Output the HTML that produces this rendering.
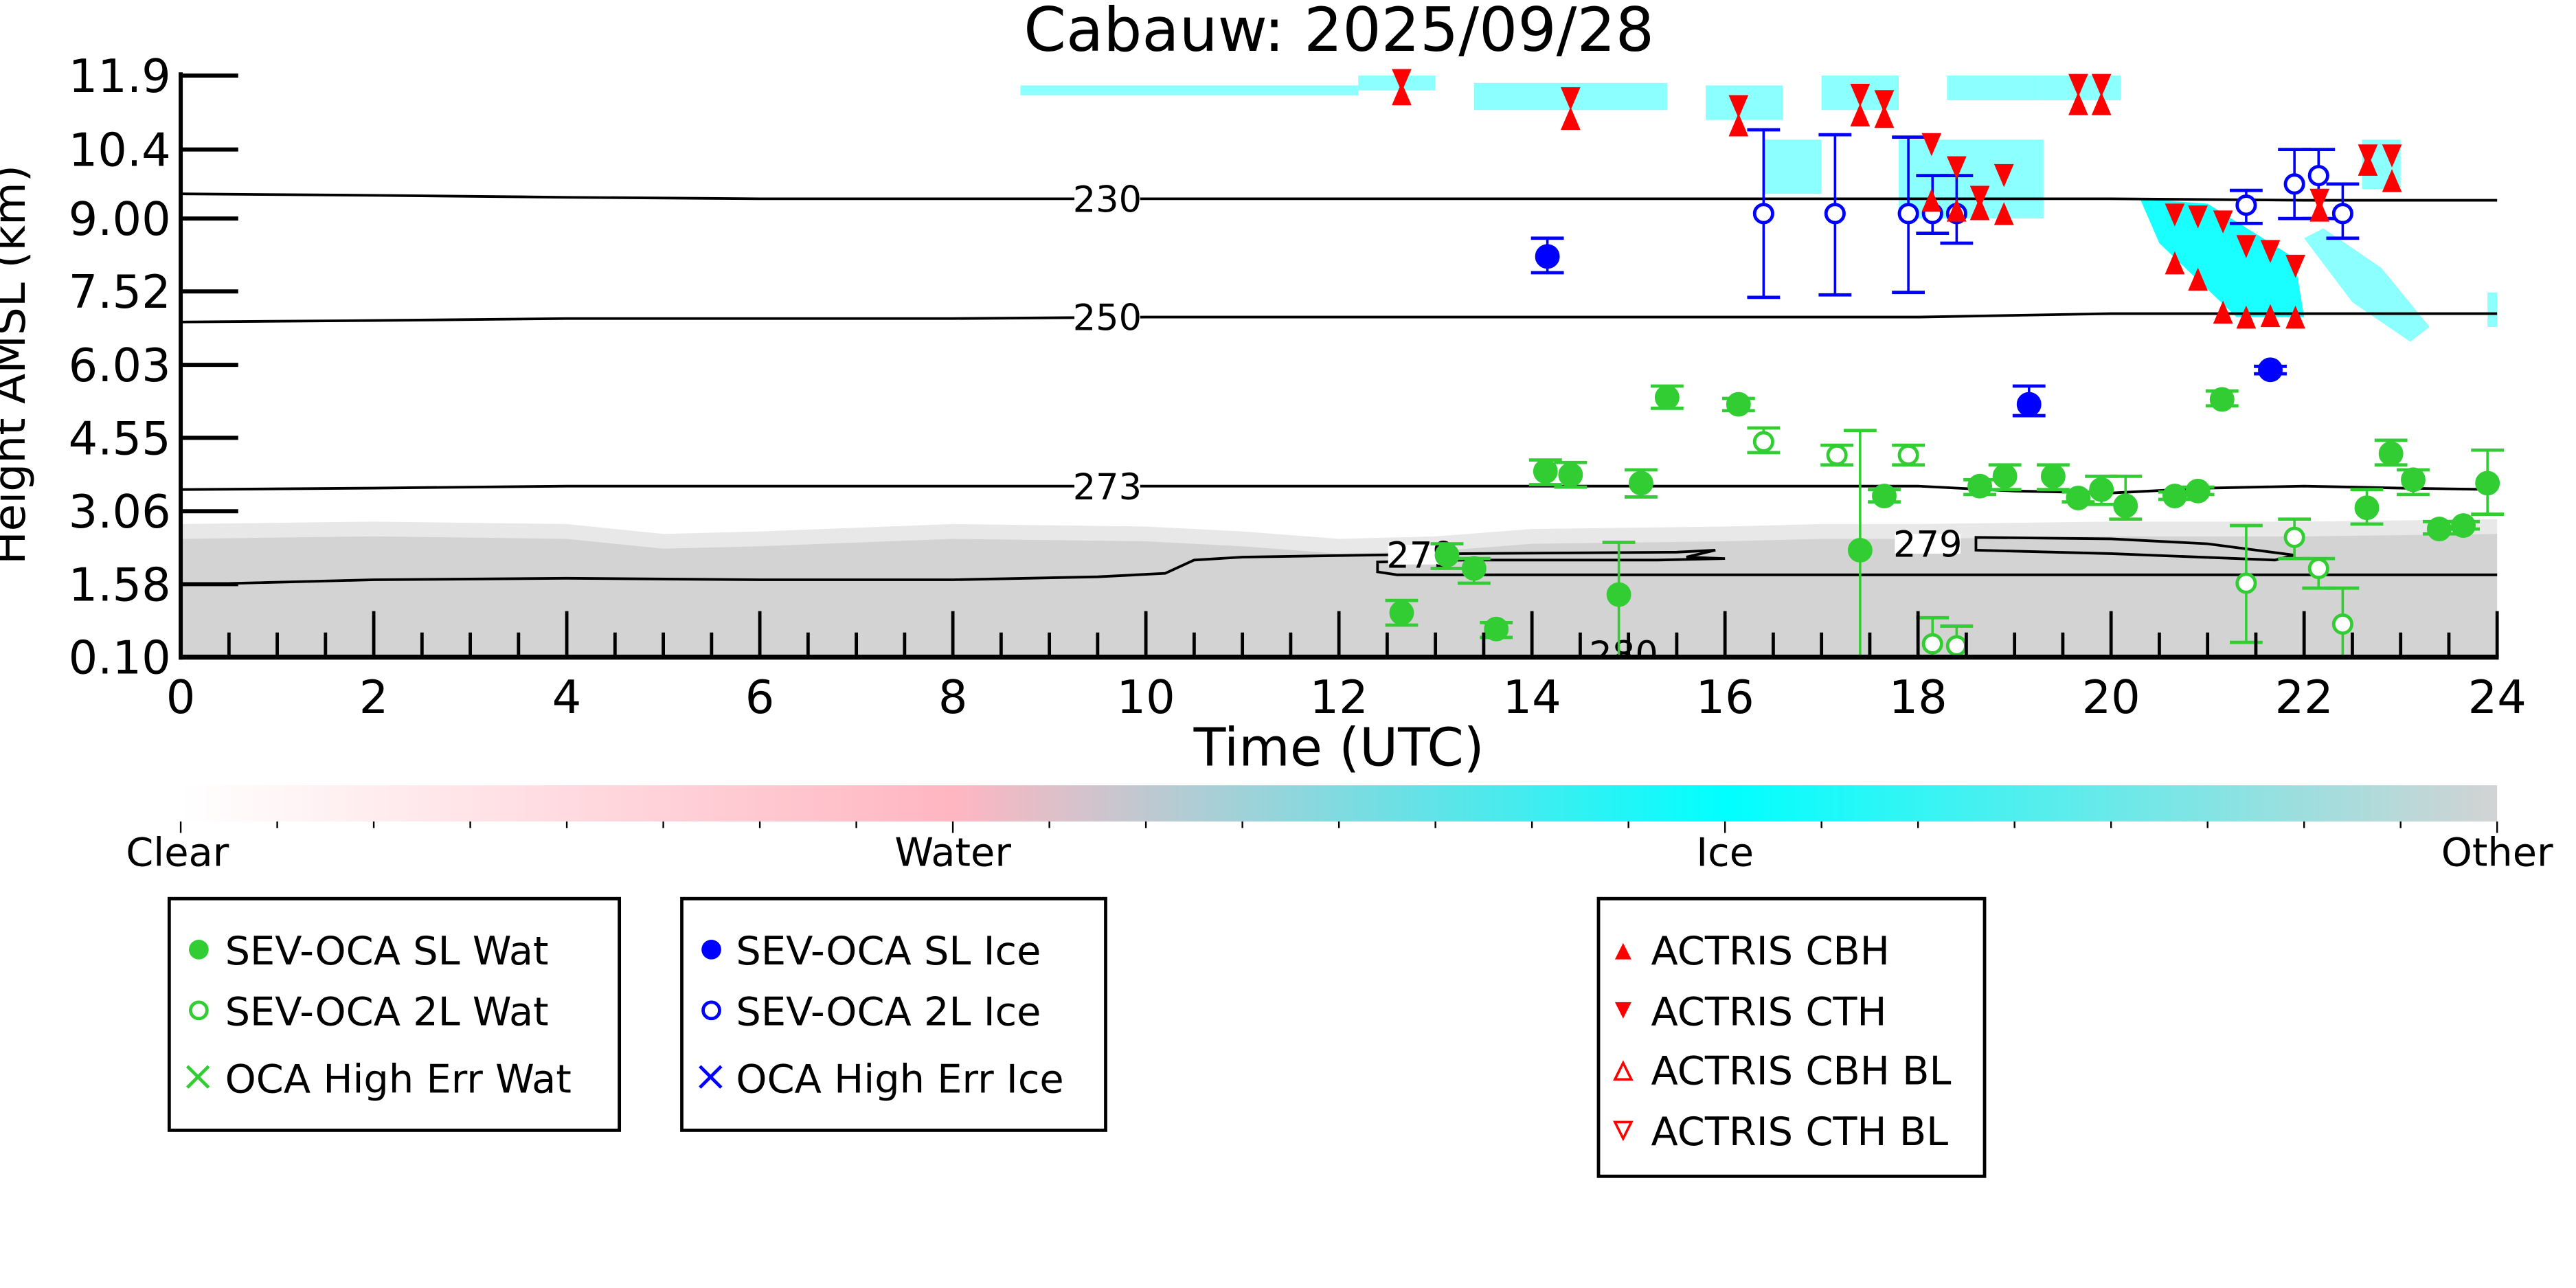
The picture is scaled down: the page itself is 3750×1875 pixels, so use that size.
<!DOCTYPE html>
<html><head><meta charset="utf-8"><title>Cabauw: 2025/09/28</title>
<style>html,body{margin:0;padding:0;background:#fff;}svg{display:block;font-family:"DejaVu Sans","Liberation Sans",sans-serif;}</style></head>
<body>
<svg id="chart" xmlns="http://www.w3.org/2000/svg" width="3750" height="1875" viewBox="0 0 1568 784">
<defs>
<linearGradient id="cbar" x1="0" x2="1" y1="0" y2="0">
<stop offset="0" stop-color="#ffffff"/><stop offset="0.333" stop-color="#ffb6c1"/><stop offset="0.667" stop-color="#00ffff"/><stop offset="1" stop-color="#d3d3d3"/>
</linearGradient>
<clipPath id="plotclip"><rect x="110" y="40" width="1412" height="360"/></clipPath>
</defs>
<g id="bg" clip-path="url(#plotclip)"></g>
<g id="contours"></g>
<g id="marks"></g>
<g id="axes"></g>
<text x="815" y="31" font-size="37" text-anchor="middle">Cabauw: 2025/09/28</text>
<text transform="translate(15,222) rotate(-90)" font-size="27" text-anchor="middle">Height AMSL (km)</text>
<text x="815" y="466" font-size="32" text-anchor="middle">Time (UTC)</text>
<g>
<rect x="110" y="478" width="1410" height="22" fill="url(#cbar)"/>
<g id="cbticks"></g>
<text x="108" y="527" font-size="24" text-anchor="middle">Clear</text>
<text x="580" y="527" font-size="24" text-anchor="middle">Water</text>
<text x="1050" y="527" font-size="24" text-anchor="middle">Ice</text>
<text x="1520" y="527" font-size="24" text-anchor="middle">Other</text>
</g>
<g>
<rect x="103" y="547" width="274" height="141" fill="#fff" stroke="#000" stroke-width="2"/>
<circle cx="121" cy="578" r="6" fill="#32cd32"/><text x="137" y="587" font-size="24">SEV-OCA SL Wat</text>
<circle cx="121" cy="615" r="5" fill="none" stroke="#32cd32" stroke-width="2"/><text x="137" y="624" font-size="24">SEV-OCA 2L Wat</text>
<path d="M114,649 l13,13 M127,649 l-13,13" stroke="#32cd32" stroke-width="2"/><text x="137" y="665" font-size="24">OCA High Err Wat</text>
</g>
<g>
<rect x="415" y="547" width="258" height="141" fill="#fff" stroke="#000" stroke-width="2"/>
<circle cx="433" cy="578" r="6" fill="#0000ff"/><text x="448" y="587" font-size="24">SEV-OCA SL Ice</text>
<circle cx="433" cy="615" r="5" fill="none" stroke="#0000ff" stroke-width="2"/><text x="448" y="624" font-size="24">SEV-OCA 2L Ice</text>
<path d="M426,649 l13,13 M439,649 l-13,13" stroke="#0000ff" stroke-width="2"/><text x="448" y="665" font-size="24">OCA High Err Ice</text>
</g>
<g>
<rect x="973" y="547" width="235" height="169" fill="#fff" stroke="#000" stroke-width="2"/>
<path d="M983,584 l5,-10 l5,10z" fill="#ff0000"/><text x="1005" y="587" font-size="24">ACTRIS CBH</text>
<path d="M983,610 l5,10 l5,-10z" fill="#ff0000"/><text x="1005" y="624" font-size="24">ACTRIS CTH</text>
<path d="M983,657 l5,-10 l5,10z" fill="none" stroke="#ff0000" stroke-width="1.5"/><text x="1005" y="660" font-size="24">ACTRIS CBH BL</text>
<path d="M983,683 l5,10 l5,-10z" fill="none" stroke="#ff0000" stroke-width="1.5"/><text x="1005" y="697" font-size="24">ACTRIS CTH BL</text>
</g>
</svg>
<script>
// ---- data ----
const xTicks = [0,2,4,6,8,10,12,14,16,18,20,22,24];
const yTicks = [0.10,1.58,3.06,4.55,6.03,7.52,9.00,10.4,11.9];
const yTickLabels = ["0.10","1.58","3.06","4.55","6.03","7.52","9.00","10.4","11.9"];

const wetT = [12.65,13.12,13.4,13.63,14.14,14.4,14.9,15.13,15.4,16.14,17.4,17.65,18.64,18.9,19.4,19.66,19.9,20.15,20.66,20.9,21.15,22.65,22.9,23.13,23.4,23.65,23.9];
const wetH = [1.0,2.17,1.9,0.67,3.87,3.8,1.37,3.63,5.37,5.23,2.27,3.37,3.57,3.77,3.77,3.33,3.5,3.17,3.37,3.47,5.33,3.13,4.23,3.7,2.7,2.77,3.63];
const wetLo = [0.75,1.9,1.6,0.5,3.6,3.55,0.1,3.35,5.15,5.1,0.1,3.25,3.4,3.5,3.5,3.25,3.2,2.9,3.3,3.4,5.2,2.8,4.0,3.4,2.6,2.7,3.0];
const wetHi = [1.25,2.4,2.1,0.8,4.1,4.05,2.43,3.9,5.6,5.35,4.7,3.5,3.7,4.0,4.0,3.45,3.77,3.77,3.45,3.55,5.5,3.5,4.5,3.9,2.85,2.85,4.3];

const wet2T = [16.4,17.16,17.9,18.15,18.4,21.4,21.9,22.15,22.4];
const wet2H = [4.47,4.2,4.2,0.37,0.33,1.6,2.53,1.9,0.77];
const wet2Lo = [4.25,4.0,4.0,0.1,0.1,0.4,2.1,1.5,0.1];
const wet2Hi = [4.75,4.4,4.4,0.9,0.73,2.77,2.9,2.1,1.5];

const iceT = [14.16,19.15,21.65];
const iceH = [8.23,5.23,5.93];
const iceLo = [7.9,5.0,5.85];
const iceHi = [8.6,5.6,6.0];

const ice2T = [16.4,17.14,17.9,18.15,18.4,21.4,21.9,22.15,22.4];
const ice2H = [9.1,9.1,9.1,9.1,9.1,9.27,9.7,9.87,9.1];
const ice2Lo = [7.4,7.45,7.5,8.7,8.5,8.9,9.0,9.0,8.6];
const ice2Hi = [10.8,10.7,10.65,9.87,9.87,9.57,10.4,10.4,9.7];

const cthT = [12.65,14.4,16.14,17.4,17.65,19.66,19.9,18.14,18.4,18.89,18.64,20.66,20.9,21.16,21.4,21.65,21.91,22.16,22.66,22.91];
const cthH = [11.8,11.43,11.27,11.5,11.37,11.7,11.7,10.5,10.03,9.87,9.43,9.07,9.03,8.93,8.43,8.33,8.03,9.37,10.27,10.27];
const cbhT = [12.65,14.4,16.14,17.4,17.65,19.66,19.9,18.14,18.4,18.64,18.89,20.66,20.9,21.16,21.4,21.65,21.91,22.16,22.66,22.91];
const cbhH = [11.53,11.03,10.9,11.1,11.07,11.33,11.33,9.37,9.17,9.2,9.1,8.1,7.77,7.1,7.0,7.03,7.0,9.17,10.1,9.77];

const c230T = [0,2,4,6,8,10,12,14,16,18,20,22,24];
const c230H = [9.5,9.47,9.43,9.4,9.4,9.4,9.4,9.4,9.4,9.4,9.4,9.37,9.37];
const c250T = [0,2,4,6,8,10,12,14,16,18,20,22,24];
const c250H = [6.9,6.93,6.97,6.97,6.97,7.0,7.0,7.0,7.0,7.0,7.07,7.07,7.07];
const c273T = [0,2,4,6,8,10,12,14,16,18,19,20,21,22,23,24];
const c273H = [3.5,3.53,3.57,3.57,3.57,3.57,3.57,3.57,3.57,3.57,3.47,3.43,3.53,3.57,3.53,3.5];
const c279aT = [0,2,4,6,8,9.5,10.2,10.5,11,12.3,13.3,15.5,15.9,15.6,16,15.3,13.3,12.4,12.4,12.6,14,18,24];
const c279aH = [1.57,1.67,1.7,1.67,1.67,1.73,1.8,2.07,2.13,2.17,2.2,2.23,2.27,2.13,2.1,2.07,2.07,2.03,1.83,1.77,1.77,1.77,1.77];
const c279bT = [18.6,20,21,21.9,21.7,20,18.6];
const c279bH = [2.53,2.5,2.4,2.17,2.07,2.2,2.27];

const grayT = [0,2,4,5,6,8,10,11,12,13,14,16,17,18,20,22,24];
const grayH = [2.5,2.55,2.5,2.3,2.35,2.5,2.45,2.35,2.2,2.25,2.4,2.45,2.5,2.5,2.55,2.55,2.6];

const iceBlobT0 = [8.7,12.2,13.4,15.8,16.4,17.0,17.8,18.3,19.3,22.6,23.9];
const iceBlobT1 = [12.2,13.0,15.4,16.6,17.0,17.8,19.3,19.3,20.1,23.0,24.0];
const iceBlobTop = [11.7,11.9,11.75,11.7,10.6,11.9,10.6,11.9,11.9,10.6,7.5];
const iceBlobBot = [11.5,11.6,11.2,11.0,9.5,11.2,9.0,11.4,11.4,9.6,6.8];
const mass1T = [20.3,21.0,21.9,22.0,21.3,20.5];
const mass1H = [9.4,9.3,8.2,7.0,7.0,8.5];
const mass2T = [22.0,22.2,22.8,23.3,23.1,22.5];
const mass2H = [8.6,8.8,8.0,6.8,6.5,7.3];

// ---- axes ----
const X0=110, X1=1520, Y0=400, Y1=46;
const xs = t => X0 + (t/24)*(X1-X0);
const ys = h => Y0 - (h-0.1)/(11.9-0.1)*(Y0-Y1);
const NS='http://www.w3.org/2000/svg';
function mk(tag, attrs, parent){const e=document.createElementNS(NS,tag);for(const k in attrs)e.setAttribute(k,attrs[k]);parent.appendChild(e);return e;}
const bg=document.getElementById('bg'), cont=document.getElementById('contours'), marks=document.getElementById('marks'), axes=document.getElementById('axes');

let gp = 'M'+xs(0)+','+ys(0.1);
grayT.forEach((t,i)=>{gp+=' L'+xs(t)+','+ys(grayH[i]);});
gp+=' L'+xs(24)+','+ys(0.1)+' Z';
let lp = 'M'+xs(0)+','+ys(0.1);
grayT.forEach((t,i)=>{lp+=' L'+xs(t)+','+ys(grayH[i]+0.3);});
lp+=' L'+xs(24)+','+ys(0.1)+' Z';
const lightGray = mk('path',{d:lp,fill:'#e8e8e8'},bg);


const grayArea = mk('path',{d:gp,fill:'#d3d3d3'},bg);



iceBlobT0.forEach((t0,i)=>{
  const r = mk('rect',{x:xs(t0),y:ys(iceBlobTop[i]),width:xs(iceBlobT1[i])-xs(t0),height:ys(iceBlobBot[i])-ys(iceBlobTop[i]),fill:'#00ffff',opacity:0.45},bg);
  
  
});
[[mass1T,mass1H],[mass2T,mass2H]].forEach((m,j)=>{
  const pts = m[0].map((t,i)=>xs(t)+','+ys(m[1][i])).join(' ');
  const p = mk('polygon',{points:pts,fill:'#00ffff',opacity:j?0.45:0.9},bg);
  
  
});

function line(T,H,name,closed){
  const d = T.map((t,i)=>(i?'L':'M')+xs(t)+','+ys(H[i])).join(' ')+(closed?' Z':'');
  const p = mk('path',{d:d,fill:'none',stroke:'#000','stroke-width':1.6},cont);
  
  
}
line(c230T,c230H,'contour-230');
line(c250T,c250H,'contour-250');
line(c273T,c273H,'contour-273');
line(c279aT,c279aH,'contour-279-a');
line(c279bT,c279bH,'contour-279-b',true);
function clabel(txt,t,h){
  mk('rect',{x:xs(t)-20,y:ys(h)-6,width:40,height:12,fill:'#fff'},cont);
  const tx = mk('text',{x:xs(t),y:ys(h)+8,'font-size':22,'text-anchor':'middle'},cont);
  tx.textContent=txt;
  
  
}
clabel('230',9.6,9.4); clabel('250',9.6,7.0); clabel('273',9.6,3.57); clabel('279',12.85,2.18); clabel('279',18.1,2.4);
const l280 = mk('text',{x:xs(14.95),y:ys(0.1)+6,'font-size':22,'text-anchor':'middle','clip-path':'url(#plotclip)'},cont);
l280.textContent='280';



function errpts(T,H,Lo,Hi,color,filled,name){
  T.forEach((t,i)=>{
    const g = mk('g',{},marks);
    
    
    const x=xs(t);
    mk('line',{x1:x,x2:x,y1:ys(Lo[i]),y2:ys(Hi[i]),stroke:color,'stroke-width':1.5},g);
    mk('line',{x1:x-10,x2:x+10,y1:ys(Lo[i]),y2:ys(Lo[i]),stroke:color,'stroke-width':2},g);
    mk('line',{x1:x-10,x2:x+10,y1:ys(Hi[i]),y2:ys(Hi[i]),stroke:color,'stroke-width':2},g);
    mk('circle',{cx:x,cy:ys(H[i]),r:filled?6.5:5.5,fill:filled?color:'#fff',stroke:color,'stroke-width':2},g);
  });
}
errpts(wetT,wetH,wetLo,wetHi,'#32cd32',true,'sev-oca-sl-wat-point');
errpts(wet2T,wet2H,wet2Lo,wet2Hi,'#32cd32',false,'sev-oca-2l-wat-point');
errpts(iceT,iceH,iceLo,iceHi,'#0000ff',true,'sev-oca-sl-ice-point');
errpts(ice2T,ice2H,ice2Lo,ice2Hi,'#0000ff',false,'sev-oca-2l-ice-point');
cthT.forEach((t,i)=>{
  const x=xs(t), y=ys(cthH[i]);
  const p = mk('path',{d:'M'+(x-6)+','+(y-7)+' L'+(x+6)+','+(y-7)+' L'+x+','+(y+7)+' Z',fill:'#ff0000'},marks);
  
  
});
cbhT.forEach((t,i)=>{
  const x=xs(t), y=ys(cbhH[i]);
  const p = mk('path',{d:'M'+(x-6)+','+(y+7)+' L'+(x+6)+','+(y+7)+' L'+x+','+(y-7)+' Z',fill:'#ff0000'},marks);
  
  
});

const yAxis = mk('line',{x1:X0,x2:X0,y1:Y1-2,y2:Y0+1.5,stroke:'#000','stroke-width':2.5},axes);


const xAxis = mk('line',{x1:X0-1,x2:X1+1,y1:Y0,y2:Y0,stroke:'#000','stroke-width':3},axes);


yTicks.forEach((v,i)=>{
  mk('line',{x1:X0,x2:X0+35,y1:ys(v),y2:ys(v),stroke:'#000','stroke-width':2.5},axes);
  const tx = mk('text',{x:X0-6,y:ys(v)+10,'font-size':28,'text-anchor':'end'},axes);
  tx.textContent=yTickLabels[i];
  
  
});
for(let k=1;k<=48;k++){
  const t=k/2, major=(k%4===0);
  mk('line',{x1:xs(t),x2:xs(t),y1:Y0,y2:Y0-(major?28:15),stroke:'#000','stroke-width':2},axes);
}
xTicks.forEach(t=>{
  const tx = mk('text',{x:xs(t),y:Y0+34,'font-size':28,'text-anchor':'middle'},axes);
  tx.textContent=String(t);
  
  
});
const cbt=document.getElementById('cbticks');
for(let k=0;k<=24;k++){
  const x=110+1410*k/24;
  mk('line',{x1:x,x2:x,y1:500,y2:(k%8===0)?507:504,stroke:'#000','stroke-width':1},cbt);
}
</script>
</body></html>
